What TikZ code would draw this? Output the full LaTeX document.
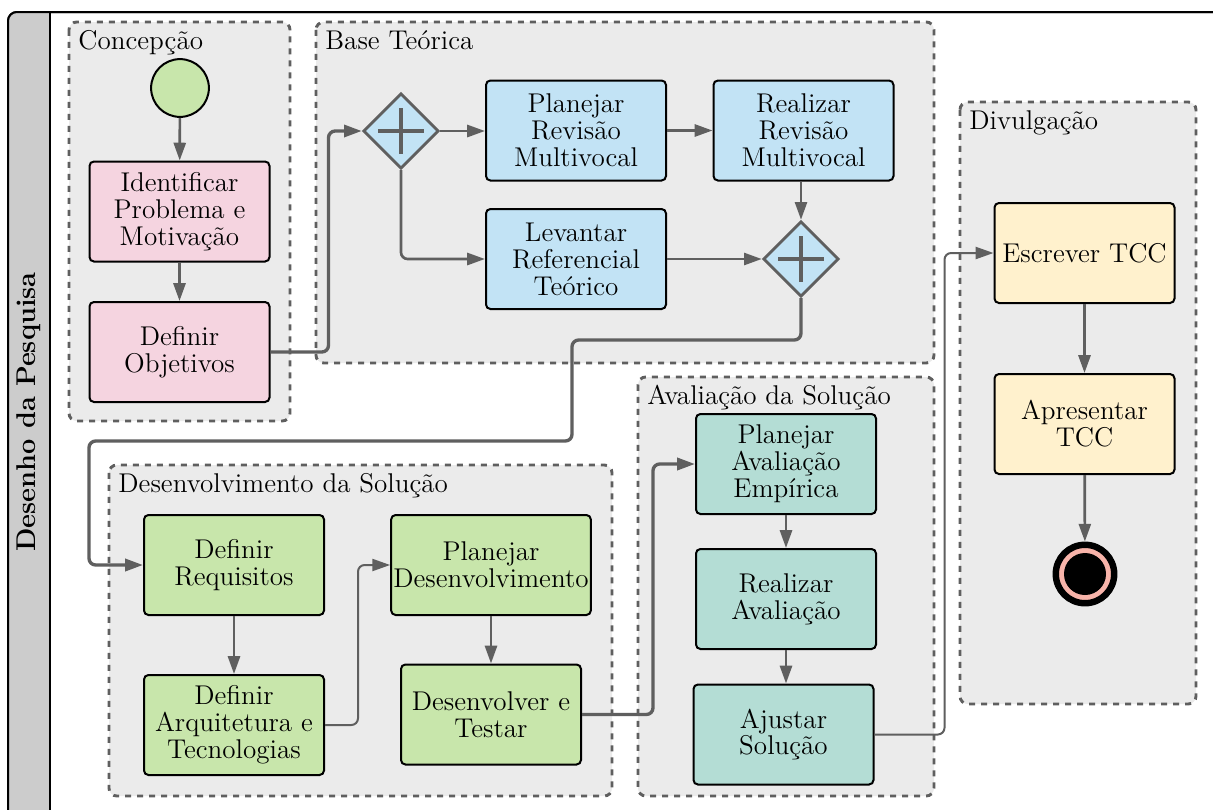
\documentclass[tikz,border=0pt]{standalone}
\usetikzlibrary{arrows.meta,shapes.geometric,calc}

\definecolor{grpfill}{HTML}{EBEBEB}
\definecolor{linegray}{HTML}{5F5F5F}
\definecolor{hdrfill}{HTML}{CCCCCC}
\definecolor{pinkbox}{HTML}{F5D4E0}
\definecolor{bluebox}{HTML}{C2E3F5}
\definecolor{greenbox}{HTML}{C8E6AB}
\definecolor{tealbox}{HTML}{B4DDD5}
\definecolor{yellowbox}{HTML}{FFF1CD}
\definecolor{endring}{HTML}{F8B4AA}

\begin{document}
\begin{tikzpicture}[
  x=0.45pt, y=-0.45pt,
  font=\fontsize{12.2}{12.1}\selectfont,
  task/.style={draw=black, line width=0.9pt, rounded corners=2pt,
    minimum width=81pt, minimum height=45pt, align=center,
    inner xsep=1pt, inner ysep=0pt},
  gate/.style={diamond, aspect=1, draw=linegray, fill=bluebox,
    line width=1.3pt, minimum width=34pt, minimum height=34pt, inner sep=0pt},
  grp/.style={draw=linegray, fill=grpfill, line width=1.3pt,
    dash pattern=on 2.7pt off 2.7pt, rounded corners=3.5pt},
  grplabel/.style={anchor=base west, inner sep=0pt},
  flow/.style={draw=linegray, line width=1.2pt, rounded corners=3pt,
    -{Triangle[length=8pt,width=5.4pt]}},
  flowthin/.style={flow, line width=0.9pt},
  flowthick/.style={flow, line width=1.5pt},
  plus/.style={draw=linegray, line width=1.4pt}
]
\useasboundingbox (0,0) rectangle (1213,809);

% pool frame and header band
\draw[fill=white, line width=0.9pt, rounded corners=4pt] (8,12) rectangle (1230,830);
\begin{scope}
  \clip[rounded corners=4pt] (8,12) rectangle (1230,830);
  \fill[hdrfill] (8,12) rectangle (50,830);
\end{scope}
\draw[line width=0.9pt, rounded corners=4pt] (8,830) -- (8,12) -- (1230,12);
\draw[line width=0.9pt] (50,12) -- (50,830);
\node[rotate=90, font=\fontsize{12.2}{12.1}\selectfont\bfseries] (pool) at (29,412) {Desenho da Pesquisa};

% groups
\draw[grp] (69,22) rectangle (290,421);
\node[grplabel] (lc) at (78,49) {Concepção};
\draw[grp] (316,22) rectangle (934,363);
\node[grplabel] (lb) at (325,49) {Base Teórica};
\draw[grp] (960,102) rectangle (1196,704);
\node[grplabel] (ld) at (969,129) {Divulgação};
\draw[grp] (109,465) rectangle (612,796);
\node[grplabel] (ls) at (118,492) {Desenvolvimento da Solução};
\draw[grp] (638,377) rectangle (934,796);
\node[grplabel] (la) at (647,404) {Avaliação da Solução};

% Concepção
\node[circle, draw=black, line width=0.9pt, fill=greenbox, minimum size=26pt, inner sep=0pt] (start) at (180,88) {};
\node[task, fill=pinkbox] (ident) at (179.5,211.5) {Identificar\\Problema e\\Motivação};
\node[task, fill=pinkbox] (obj) at (179.5,352) {Definir\\Objetivos};

% Base Teórica
\node[gate] (g1) at (401,131) {};
\draw[plus] ($(g1)+(-23,0)$) -- ($(g1)+(23,0)$);
\draw[plus] ($(g1)+(0,-23)$) -- ($(g1)+(0,23)$);
\node[task, fill=bluebox] (prm) at (576,130.5) {Planejar\\Revisão\\Multivocal};
\node[task, fill=bluebox] (rrm) at (803.5,130.5) {Realizar\\Revisão\\Multivocal};
\node[task, fill=bluebox] (lrt) at (576,259) {Levantar\\Referencial\\Teórico};
\node[gate] (g2) at (801,259) {};
\draw[plus] ($(g2)+(-23,0)$) -- ($(g2)+(23,0)$);
\draw[plus] ($(g2)+(0,-23)$) -- ($(g2)+(0,23)$);

% Divulgação
\node[task, fill=yellowbox] (esc) at (1084.5,253) {Escrever TCC};
\node[task, fill=yellowbox] (apr) at (1084.5,424) {Apresentar\\TCC};
\node[circle, draw=black, line width=2.9pt, fill=endring, minimum size=26.3pt, inner sep=0pt] (end) at (1085,574) {};
\fill[black] (end.center) circle[radius=9.45pt];

% Desenvolvimento da Solução
\node[task, fill=greenbox] (dreq) at (234,565) {Definir\\Requisitos};
\node[task, fill=greenbox] (darq) at (234,725) {Definir\\Arquitetura e\\Tecnologias};
\node[task, fill=greenbox] (pdes) at (491,565) {Planejar\\Desenvolvimento};
\node[task, fill=greenbox] (dtes) at (491,714.5) {Desenvolver e\\Testar};

% Avaliação da Solução
\node[task, fill=tealbox] (pav) at (786,464) {Planejar\\Avaliação\\Empírica};
\node[task, fill=tealbox] (rav) at (786,599) {Realizar\\Avaliação};
\node[task, fill=tealbox] (ajs) at (783.5,734.5) {Ajustar\\Solução};

% waypoints of the long connector
\coordinate (w1) at (572,340);
\coordinate (w2) at (89,441);

% sequence flows
\draw[flow] (start) -- (ident);
\draw[flow] (ident) -- (obj);
\draw[flowthick] (obj.east) -- ++(58,0) |- (g1.west);
\draw[flow] (g1.east) -- (g1.east -| prm.west);
\draw[flow] (prm.east |- rrm.west) -- (rrm.west);
\draw[flow] (g1.south) |- (lrt.west);
\draw[flow] (lrt.east) -- (g2.west);
\draw[flow] (g2 |- rrm.south) -- (g2.north);
\draw[flowthick] (g2.south) |- (w1) |- (w2) |- (dreq.west);
\draw[flow] (dreq) -- (darq);
\draw[flowthin] (darq.east) -- ++(33,0) |- (pdes.west);
\draw[flow] (pdes) -- (dtes);
\draw[flowthick] (dtes.east) -- ++(71,0) |- (pav.west);
\draw[flow] (pav) -- (rav);
\draw[flow] (rav.south) -- (rav.south |- ajs.north);
\draw[flowthin] (ajs.east) -- ++(70,0) |- (esc.west);
\draw[flow] (esc) -- (apr);
\draw[flow] (apr) -- (end);
\end{tikzpicture}
\end{document}
